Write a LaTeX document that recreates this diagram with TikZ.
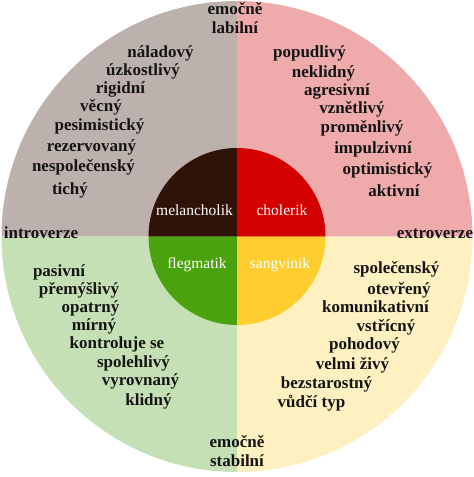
\documentclass[tikz,border=0pt]{standalone}
\usepackage{fontspec}
\setmainfont{Liberation Serif}
\usepackage{tikz}
\definecolor{melout}{RGB}{189,177,174}
\definecolor{melin}{RGB}{47,18,8}
\definecolor{cholout}{RGB}{239,171,172}
\definecolor{cholin}{RGB}{212,0,0}
\definecolor{flegout}{RGB}{198,224,181}
\definecolor{flegin}{RGB}{74,163,12}
\definecolor{sangout}{RGB}{255,240,193}
\definecolor{sangin}{RGB}{255,205,46}
\definecolor{wordgray}{RGB}{20,20,20}

\begin{document}
\begin{tikzpicture}[
  x=1pt, y=1pt,
  word/.style={anchor=base, inner sep=0pt, text=wordgray, font=\fontsize{17}{20}\selectfont\bfseries},
  temp/.style={anchor=base, inner sep=0pt, text=white, font=\fontsize{15.5}{18}\selectfont},
  axis/.style={word, align=center}
]
\useasboundingbox (-237,-240.5) rectangle (237,236.5);

% outer quadrants
\fill[melout] (0,0) -- (-235.5,0) arc[start angle=180, end angle=90, radius=235.5] -- cycle;
\fill[cholout] (0,0) -- (0,235.5) arc[start angle=90, end angle=0, radius=235.5] -- cycle;
\fill[sangout] (0,0) -- (235.5,0) arc[start angle=0, end angle=-90, radius=235.5] -- cycle;
\fill[flegout] (0,0) -- (0,-235.5) arc[start angle=-90, end angle=-180, radius=235.5] -- cycle;

% inner quadrants
\fill[melin] (0,0) -- (-88.5,0) arc[start angle=180, end angle=90, radius=88.5] -- cycle;
\fill[cholin] (0,0) -- (0,88.5) arc[start angle=90, end angle=0, radius=88.5] -- cycle;
\fill[sangin] (0,0) -- (88.5,0) arc[start angle=0, end angle=-90, radius=88.5] -- cycle;
\fill[flegin] (0,0) -- (0,-88.5) arc[start angle=-90, end angle=-180, radius=88.5] -- cycle;

% temperaments
\node[temp] (mel) at (-42.5,21) {melancholik};
\node[temp] (chol) at (45,21) {cholerik};
\node[temp] (fleg) at (-40,-32) {flegmatik};
\node[temp] (sang) at (43,-32) {sangvinik};

% axes
\node[axis] (labil) at (-2,222) {emočně};
\node[axis] (labil2) at (-2,203) {labilní};
\node[axis] (stabil) at (0,-211) {emočně};
\node[axis] (stabil2) at (0,-229.5) {stabilní};
\node[axis] (intro) at (-196,-2) {introverze};
\node[axis] (extro) at (198,-2) {extroverze};

% melancholik
\node[word] (m1) at (-76.5,179) {náladový};
\node[word] (m2) at (-94,161) {úzkostlivý};
\node[word] (m3) at (-116.5,143) {rigidní};
\node[word] (m4) at (-136,125) {věcný};
\node[word] (m5) at (-137.5,106) {pesimistický};
\node[word] (m6) at (-145.5,85) {rezervovaný};
\node[word] (m7) at (-153.5,65) {nespolečenský};
\node[word] (m8) at (-167,42) {tichý};

% cholerik
\node[word] (c1) at (72.5,179) {popudlivý};
\node[word] (c2) at (86.5,159) {neklidný};
\node[word] (c3) at (100,141) {agresivní};
\node[word] (c4) at (115,123) {vznětlivý};
\node[word] (c5) at (125,104) {proměnlivý};
\node[word] (c6) at (136,83) {impulzivní};
\node[word] (c7) at (150.5,62) {optimistický};
\node[word] (c8) at (157,40) {aktivní};

% flegmatik
\node[word] (f1) at (-178,-40) {pasivní};
\node[word] (f2) at (-158,-58) {přemýšlivý};
\node[word] (f3) at (-146.5,-76) {opatrný};
\node[word] (f4) at (-143,-94) {mírný};
\node[word] (f5) at (-120,-112) {kontroluje se};
\node[word] (f6) at (-103.5,-131) {spolehlivý};
\node[word] (f7) at (-96.5,-149) {vyrovnaný};
\node[word] (f8) at (-88.5,-169) {klidný};

% sangvinik
\node[word] (s1) at (159.5,-37) {společenský};
\node[word] (s2) at (162,-58) {otevřený};
\node[word] (s3) at (138.5,-76) {komunikativní};
\node[word] (s4) at (149,-95) {vstřícný};
\node[word] (s5) at (127.5,-113) {pohodový};
\node[word] (s6) at (115.5,-133) {velmi živý};
\node[word] (s7) at (89.5,-152) {bezstarostný};
\node[word] (s8) at (74.5,-171) {vůdčí typ};

\end{tikzpicture}
\end{document}
